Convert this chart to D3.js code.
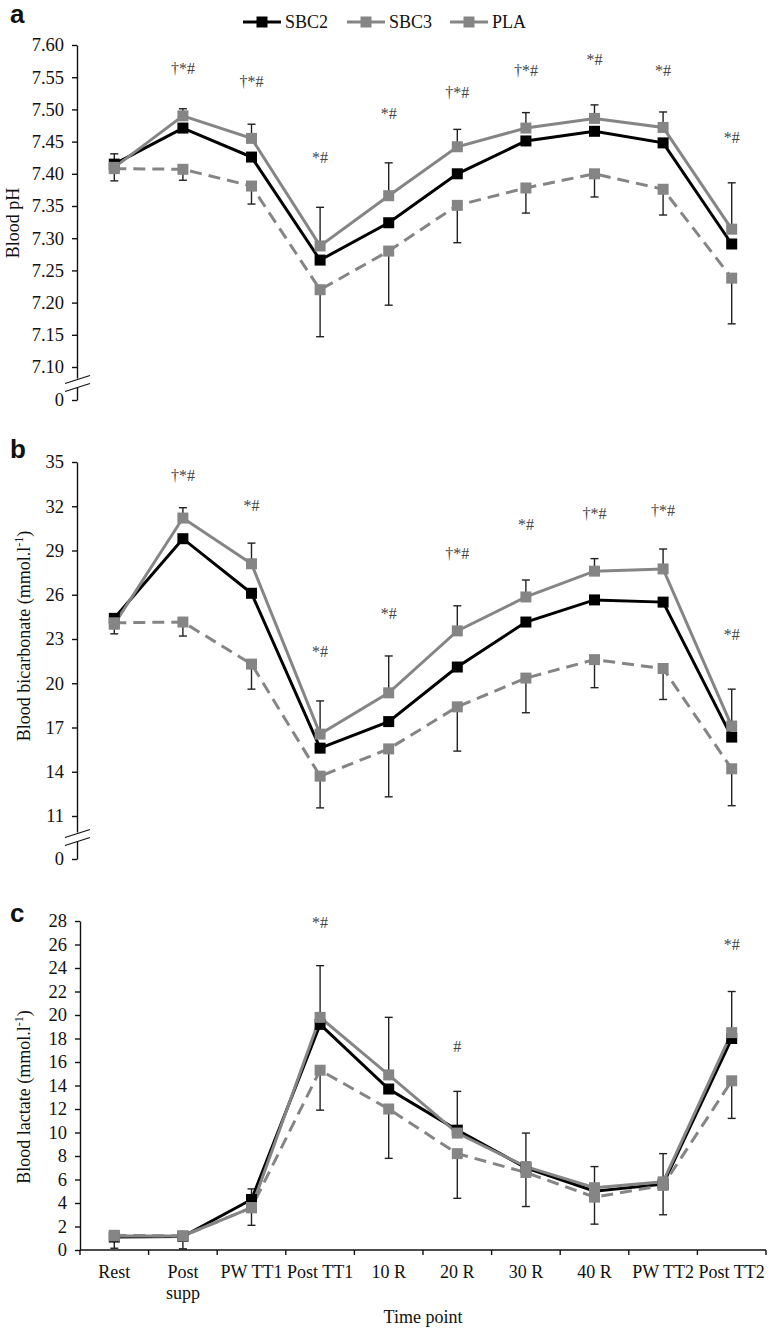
<!DOCTYPE html>
<html>
<head>
<meta charset="utf-8">
<script src="https://cdn.jsdelivr.net/npm/d3@7"></script>
<style>
  body { margin: 0; background: #fff; }
  svg text { font-family: "Liberation Serif", "Times New Roman", serif; fill: #111; }
</style>
</head>
<body>
<svg id="chart" width="774" height="1332"></svg>
<script>
"use strict";

// Time points on the x axis
const timePoints = ["Rest", "Post supp", "PW TT1", "Post TT1", "10 R", "20 R", "30 R", "40 R", "PW TT2", "Post TT2"];
const timeTickLabels = [["Rest"], ["Post", "supp"], ["PW TT1"], ["Post TT1"], ["10 R"], ["20 R"], ["30 R"], ["40 R"], ["PW TT2"], ["Post TT2"]];
const seriesNames = ["SBC2", "SBC3", "PLA"];

// a: blood pH
const phSBC2 = [7.415, 7.471, 7.426, 7.266, 7.324, 7.400, 7.451, 7.466, 7.448, 7.291];
const phSBC3 = [7.410, 7.490, 7.455, 7.288, 7.366, 7.442, 7.471, 7.486, 7.472, 7.314];
const phPLA = [7.408, 7.407, 7.381, 7.220, 7.280, 7.351, 7.378, 7.400, 7.376, 7.238];
const phSBC3Sd = [0.021, 0.011, 0.022, 0.060, 0.051, 0.027, 0.024, 0.021, 0.024, 0.072];
const phPLASd = [0.019, 0.017, 0.028, 0.073, 0.084, 0.058, 0.039, 0.036, 0.040, 0.071];
const phMarks = ["", "†*#", "†*#", "*#", "*#", "†*#", "†*#", "*#", "*#", "*#"];
const phMarkLevels = [null, 7.563, 7.543, 7.426, 7.494, 7.527, 7.561, 7.577, 7.561, 7.457];
const phTicks = [0, 7.10, 7.15, 7.20, 7.25, 7.30, 7.35, 7.40, 7.45, 7.50, 7.55, 7.60];

// b: blood bicarbonate
const bicarbSBC2 = [24.4, 29.8, 26.1, 15.6, 17.4, 21.1, 24.15, 25.65, 25.5, 16.35];
const bicarbSBC3 = [24.0, 31.2, 28.1, 16.55, 19.35, 23.55, 25.85, 27.6, 27.75, 17.1];
const bicarbPLA = [24.1, 24.15, 21.3, 13.7, 15.55, 18.4, 20.35, 21.6, 21.0, 14.2];
const bicarbSBC3Sd = [0.3, 0.7, 1.4, 2.25, 2.5, 1.7, 1.15, 0.85, 1.35, 2.5];
const bicarbPLASd = [0.75, 0.95, 1.7, 2.15, 3.25, 3.0, 2.35, 1.9, 2.1, 2.5];
const bicarbMarks = ["", "†*#", "*#", "*#", "*#", "†*#", "*#", "†*#", "†*#", "*#"];
const bicarbMarkLevels = [null, 34.08, 32.05, 22.13, 24.71, 28.79, 30.76, 31.5, 31.71, 23.29];
const bicarbTicks = [0, 11, 14, 17, 20, 23, 26, 29, 32, 35];

// c: blood lactate
const lactateSBC2 = [1.1, 1.15, 4.3, 19.2, 13.7, 10.2, 7.0, 5.0, 5.6, 18.0];
const lactateSBC3 = [1.2, 1.2, 3.6, 19.8, 14.9, 9.95, 7.1, 5.3, 5.8, 18.5];
const lactatePLA = [1.25, 1.2, 3.6, 15.3, 12.0, 8.2, 6.6, 4.5, 5.5, 14.4];
const lactateSBC3Sd = [0.3, 0.3, 1.6, 4.4, 4.9, 3.55, 2.85, 1.8, 2.4, 3.5];
const lactatePLASd = [1.1, 1.1, 1.5, 3.4, 4.2, 3.8, 2.9, 2.3, 2.5, 3.2];
const lactateMarks = ["", "", "", "*#", "", "#", "", "", "", "*#"];
const lactateMarkLevels = [null, null, null, 27.9, null, 17.3, null, null, null, 26.0];
const lactateTicks = [0, 2, 4, 6, 8, 10, 12, 14, 16, 18, 20, 22, 24, 26, 28];

const gray = "#858585";
const seriesStyle = {
    SBC2: {color: "#000", dash: null},
    SBC3: {color: gray, dash: null},
    PLA: {color: gray, dash: "12,7"}
};

const svg = d3.select("#chart");
const x = d3.scaleBand().domain(timePoints).range([80, 766]);
const cx = (d) => x(d) + x.bandwidth() / 2;

function drawPanel(cfg) {
    const g = svg.append("g");
    const y = d3.scaleLinear().domain(cfg.domain).range(cfg.range);

    // y axis
    const yAxis = g.append("g")
        .attr("transform", `translate(${cfg.axisX},0)`)
        .call(d3.axisLeft(y).tickValues(cfg.ticks).tickFormat(cfg.format)
            .tickSize(5).tickSizeOuter(0).tickPadding(8));
    yAxis.attr("font-size", null).attr("font-family", null);
    yAxis.select(".domain").attr("stroke", "#111").attr("stroke-width", 1.4);
    yAxis.selectAll(".tick line").attr("stroke", "#111").attr("stroke-width", 1.4);
    yAxis.selectAll(".tick text").style("font-size", "18.5px").attr("fill", "#111");

    // axis break marks
    if (cfg.broken) {
        const yb = (y(0) + y(cfg.domain[1])) / 2;
        g.append("rect").attr("x", cfg.axisX - 3).attr("y", yb - 5).attr("width", 6).attr("height", 9).attr("fill", "#fff");
        [-4, 4].forEach((o) => {
            g.append("line")
                .attr("x1", cfg.axisX - 12).attr("y1", yb + o + 4)
                .attr("x2", cfg.axisX + 13).attr("y2", yb + o - 4)
                .attr("stroke", "#111").attr("stroke-width", 1.2);
        });
    }

    // y label
    const label = g.append("text")
        .attr("transform", `translate(${cfg.labelX},${cfg.labelY}) rotate(-90)`)
        .attr("text-anchor", "middle")
        .style("font-size", "18px")
        .text(cfg.label);
    if (cfg.unit) {
        label.append("tspan").text(" (mmol.l");
        label.append("tspan").attr("dy", -7).style("font-size", "12px").text("-1");
        label.append("tspan").attr("dy", 7).text(")");
    }

    // panel letter
    g.append("text")
        .attr("x", 10).attr("y", cfg.letterY)
        .style("font-family", "'Liberation Sans', Arial, sans-serif")
        .style("font-weight", "bold").style("font-size", "26px")
        .attr("fill", "#000")
        .text(cfg.letter);

    // error bars: SBC3 upwards, PLA downwards
    const bars = [];
    timePoints.forEach((t, i) => {
        bars.push({t, from: cfg.data.SBC3[i], to: cfg.data.SBC3[i] + cfg.sbc3Sd[i]});
        bars.push({t, from: cfg.data.PLA[i], to: cfg.data.PLA[i] - cfg.plaSd[i]});
    });
    const eb = g.append("g").attr("stroke", "#222").attr("stroke-width", 1.4);
    eb.selectAll("line.v").data(bars).join("line").attr("class", "v")
        .attr("x1", (d) => cx(d.t)).attr("x2", (d) => cx(d.t))
        .attr("y1", (d) => y(d.from)).attr("y2", (d) => y(d.to));
    eb.selectAll("line.c").data(bars).join("line").attr("class", "c")
        .attr("x1", (d) => cx(d.t) - 4).attr("x2", (d) => cx(d.t) + 4)
        .attr("y1", (d) => y(d.to)).attr("y2", (d) => y(d.to));

    // lines and markers
    const line = d3.line().x((d, i) => cx(timePoints[i])).y((d) => y(d));
    seriesNames.forEach((s) => {
        const st = seriesStyle[s];
        g.append("path")
            .datum(cfg.data[s])
            .attr("d", line)
            .attr("fill", "none")
            .attr("stroke", st.color)
            .attr("stroke-width", 3)
            .attr("stroke-dasharray", st.dash);
    });
    seriesNames.forEach((s) => {
        const st = seriesStyle[s];
        g.selectAll(null).data(cfg.data[s]).join("rect")
            .attr("x", (d, i) => cx(timePoints[i]) - 5.5)
            .attr("y", (d) => y(d) - 5.5)
            .attr("width", 11).attr("height", 11)
            .attr("fill", st.color);
    });

    // significance marks
    g.selectAll(null)
        .data(timePoints.map((t, i) => ({t, m: cfg.marks[i], v: cfg.markLevels[i]})).filter((d) => d.m))
        .join("text")
        .attr("x", (d) => cx(d.t))
        .attr("y", (d) => y(d.v))
        .attr("dy", "0.35em")
        .attr("text-anchor", "middle")
        .style("font-size", "16px")
        .style("fill", "#444")
        .text((d) => d.m);

    return y;
}

drawPanel({
    letter: "a", letterY: 23,
    domain: [0, 7.10, 7.60], range: [400, 367, 45], broken: true, axisX: 77,
    ticks: phTicks, format: (d) => d === 0 ? "0" : d.toFixed(2),
    label: "Blood pH", labelX: 19, labelY: 223,
    data: {SBC2: phSBC2, SBC3: phSBC3, PLA: phPLA},
    sbc3Sd: phSBC3Sd, plaSd: phPLASd, marks: phMarks, markLevels: phMarkLevels
});

drawPanel({
    letter: "b", letterY: 458,
    domain: [0, 11, 35], range: [859, 816, 462], broken: true, axisX: 77,
    ticks: bicarbTicks, format: d3.format("d"),
    label: "Blood bicarbonate", unit: true, labelX: 30, labelY: 636,
    data: {SBC2: bicarbSBC2, SBC3: bicarbSBC3, PLA: bicarbPLA},
    sbc3Sd: bicarbSBC3Sd, plaSd: bicarbPLASd, marks: bicarbMarks, markLevels: bicarbMarkLevels
});

const yC = drawPanel({
    letter: "c", letterY: 922,
    domain: [0, 28], range: [1250, 921], broken: false, axisX: 80,
    ticks: lactateTicks, format: d3.format("d"),
    label: "Blood lactate", unit: true, labelX: 30, labelY: 1097,
    data: {SBC2: lactateSBC2, SBC3: lactateSBC3, PLA: lactatePLA},
    sbc3Sd: lactateSBC3Sd, plaSd: lactatePLASd, marks: lactateMarks, markLevels: lactateMarkLevels
});

// x axis on panel c
const xAxisG = svg.append("g").attr("transform", `translate(0,${yC(0)})`);
xAxisG.append("line").attr("x1", x.range()[0]).attr("x2", x.range()[1])
    .attr("stroke", "#111").attr("stroke-width", 1.4);
xAxisG.selectAll("line.tk").data(timePoints.map((t) => x(t)).concat([x.range()[1]]))
    .join("line").attr("class", "tk")
    .attr("x1", (d) => d).attr("x2", (d) => d).attr("y1", 0).attr("y2", 5)
    .attr("stroke", "#111").attr("stroke-width", 1.4);
xAxisG.selectAll("text.tl").data(timePoints).join("text").attr("class", "tl")
    .attr("text-anchor", "middle")
    .style("font-size", "18px")
    .each(function (d, i) {
        d3.select(this).selectAll("tspan").data(timeTickLabels[i]).join("tspan")
            .attr("x", cx(d)).attr("y", (l, j) => 28 + j * 21).text((l) => l);
    });

svg.append("text")
    .attr("x", (x.range()[0] + x.range()[1]) / 2).attr("y", 1323)
    .attr("text-anchor", "middle").style("font-size", "18px")
    .text("Time point");

// legend
const legendX = [243, 347, 450];
const legend = svg.append("g");
seriesNames.forEach((s, i) => {
    const st = seriesStyle[s];
    const lg = legend.append("g").attr("transform", `translate(${legendX[i]},22)`);
    lg.append("line").attr("x1", 0).attr("x2", 38).attr("stroke", st.color).attr("stroke-width", 3);
    lg.append("rect").attr("x", 13.5).attr("y", -5.5).attr("width", 11).attr("height", 11).attr("fill", st.color);
    lg.append("text").attr("x", 42).attr("dy", "0.35em").style("font-size", "18px").text(s);
});
</script>
</body>
</html>
